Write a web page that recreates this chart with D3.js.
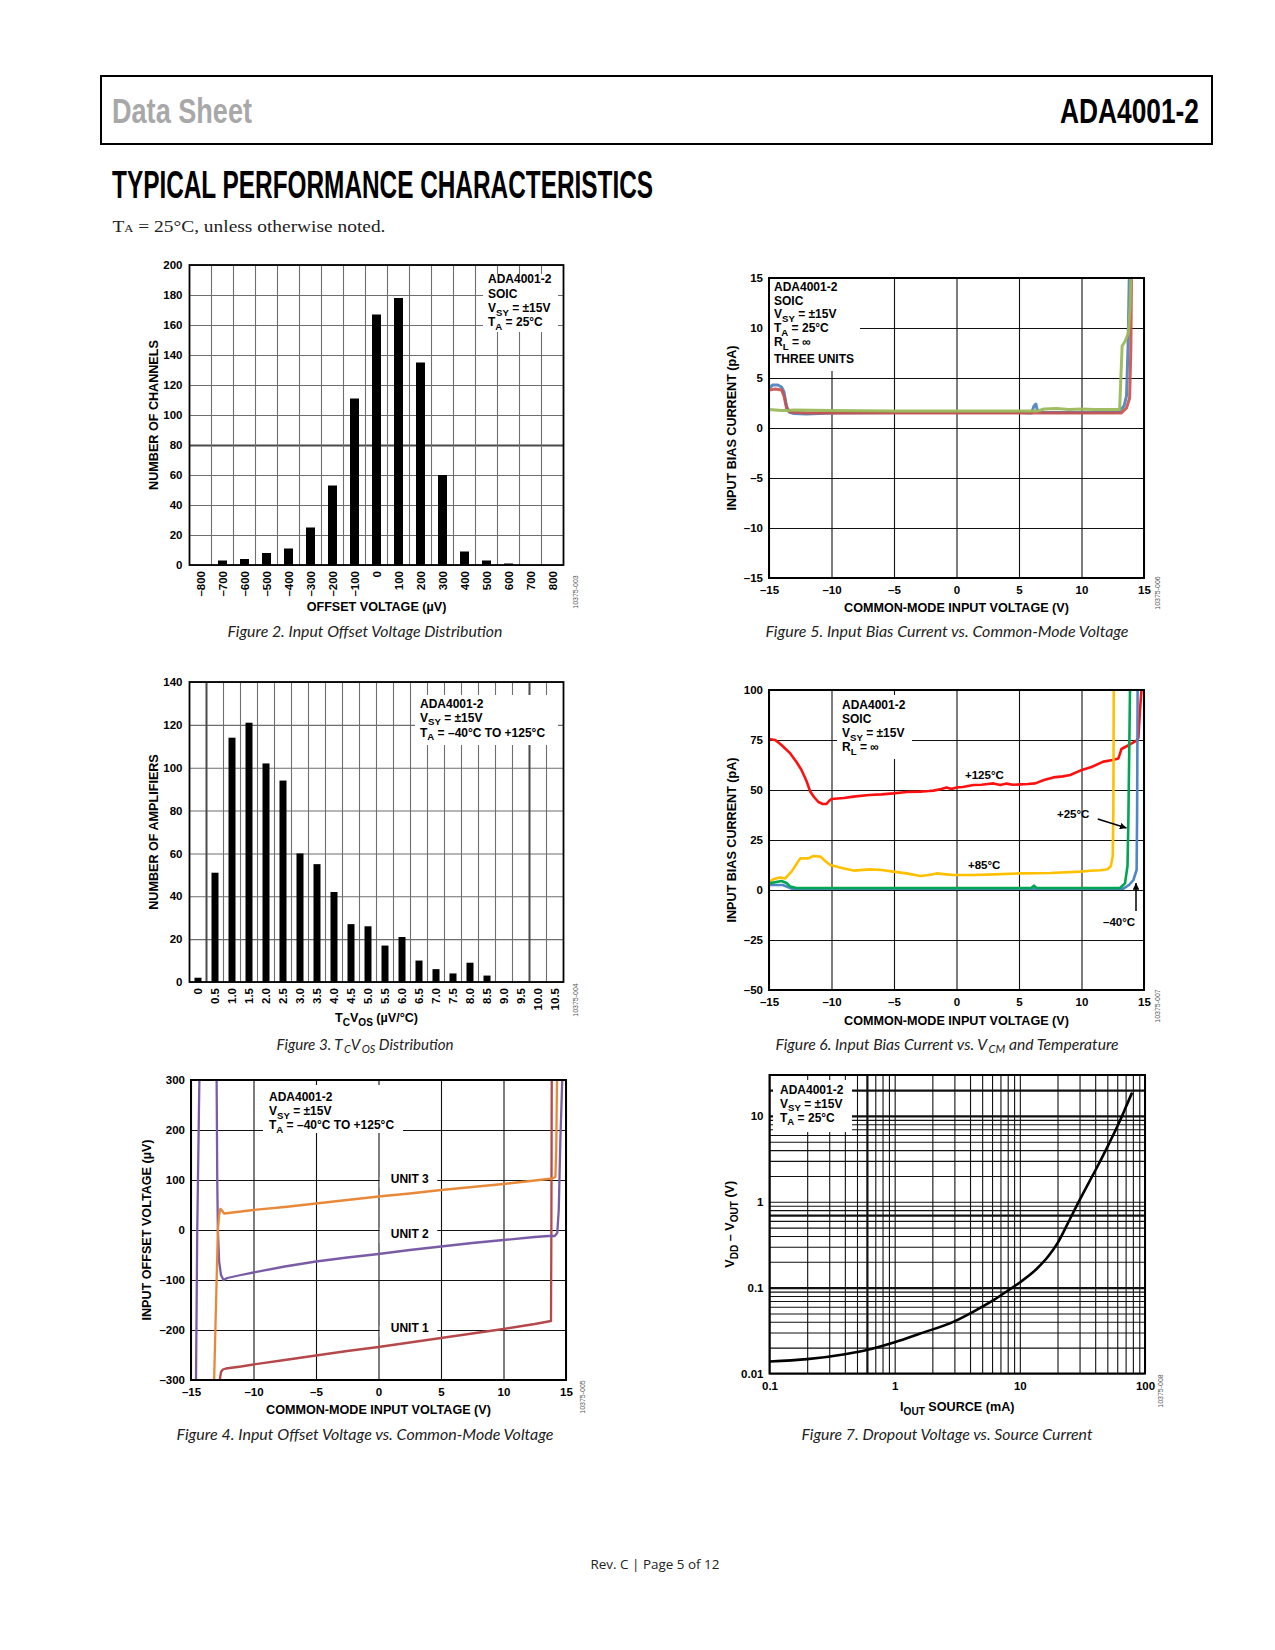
<!DOCTYPE html>
<html><head><meta charset="utf-8">
<script src="https://cdn.jsdelivr.net/npm/d3@7/dist/d3.min.js"></script>
<style>
body{margin:0;background:#fff;}
svg text{font-family:"Liberation Sans",Arial,Helvetica,sans-serif;}
</style></head><body>
<script>
// ---------------- DATA ----------------
// Figure 2: Input offset voltage distribution
const fig2Categories = [-800,-700,-600,-500,-400,-300,-200,-100,0,100,200,300,400,500,600,700,800];
const fig2Counts     = [0,3,4,8,11,25,53,111,167,178,135,60,9,3,1,0,0];
const fig2YTicks     = [0,20,40,60,80,100,120,140,160,180,200];

// Figure 3: TcVos distribution
const fig3Categories = ["0","0.5","1.0","1.5","2.0","2.5","3.0","3.5","4.0","4.5","5.0","5.5","6.0","6.5","7.0","7.5","8.0","8.5","9.0","9.5","10.0","10.5"];
const fig3Counts     = [2,51,114,121,102,94,60,55,42,27,26,17,21,10,6,4,9,3,0,0,0,0];
const fig3YTicks     = [0,20,40,60,80,100,120,140];

// Figure 4: Input offset voltage vs common-mode voltage (x V, y µV)
const fig4XTicks = [-15,-10,-5,0,5,10,15];
const fig4YTicks = [-300,-200,-100,0,100,200,300];
const fig4Unit1 = [[-12.7,-300],[-12.6,-284],[-12.45,-279],[-12.2,-277],[-11,-273],[-10,-269],[-7.5,-260],[-5,-251],[-2.5,-242],[0,-234],[2.5,-225],[5,-216],[7.5,-207],[10,-198],[12.5,-188],[13.8,-182],[13.83,0],[13.86,300]];
const fig4Unit2a = [[-14.6,-300],[-14.5,0],[-14.33,300]];
const fig4Unit2b = [[-12.95,300],[-12.9,100],[-12.85,0],[-12.75,-63],[-12.6,-90],[-12.4,-100],[-12.1,-96],[-11,-90],[-10,-85],[-7.5,-73],[-5,-63],[-2.5,-55],[0,-48],[2.5,-40],[5,-33],[7.5,-26],[10,-20],[12.5,-14],[13.6,-12],[14.1,-12],[14.3,-6],[14.42,40],[14.55,180],[14.7,300]];
const fig4Unit3 = [[-13.15,-300],[-13.0,-150],[-12.85,0],[-12.75,30],[-12.65,42],[-12.55,40],[-12.35,33],[-12,34],[-10,40],[-7.5,46],[-5,53],[-2.5,60],[0,67],[2.5,73],[5,80],[7.5,86],[10,92],[12.5,99],[13.9,103],[14.15,106],[14.22,160],[14.28,300]];

// Figure 5: Input bias current vs common-mode voltage (x V, y pA)
const fig5XTicks = [-15,-10,-5,0,5,10,15];
const fig5YTicks = [-15,-10,-5,0,5,10,15];
const fig5Blue  = [[-15,4.0],[-14.7,4.3],[-14.3,4.3],[-14.0,4.1],[-13.8,3.6],[-13.6,2.2],[-13.4,1.6],[-13,1.45],[-12,1.4],[-11,1.45],[-10,1.5],[-5,1.55],[0,1.55],[5,1.55],[6.0,1.5],[6.2,2.2],[6.35,2.4],[6.5,1.6],[7,1.55],[10,1.55],[13,1.6],[13.4,2.2],[13.6,3.2],[13.72,8],[13.82,15]];
const fig5Red   = [[-15,3.8],[-14.5,3.9],[-14.0,3.8],[-13.8,3.2],[-13.6,2.0],[-13.3,1.6],[-12,1.5],[-10,1.5],[0,1.5],[10,1.5],[13.2,1.5],[13.6,2.0],[13.85,3.0],[13.95,8],[14.0,15]];
const fig5Green = [[-15,1.85],[-14,1.75],[-13.5,1.75],[-13,1.8],[-10,1.75],[-5,1.7],[0,1.7],[5,1.7],[6.5,1.7],[7.0,1.9],[8,1.95],[9,1.85],[10,1.9],[11,1.85],[12,1.85],[13.05,1.85],[13.25,8.2],[13.5,8.7],[13.75,9.5],[13.88,12],[13.95,15]];

// Figure 6: Input bias current vs Vcm and temperature
const fig6XTicks = [-15,-10,-5,0,5,10,15];
const fig6YTicks = [-50,-25,0,25,50,75,100];
const fig6T125 = [[-15,75.5],[-14.5,75],[-14,72.5],[-13.3,68.3],[-12.8,64],[-12.4,60],[-12,54.5],[-11.7,49.2],[-11.4,46.5],[-11.05,44],[-10.7,43],[-10.4,43],[-10.2,44.5],[-10,45.5],[-9,46],[-8.25,46.7],[-7,47.5],[-6,47.8],[-5.05,48.3],[-4,49],[-2.9,49.2],[-2.2,49.5],[-1.85,49.7],[-1.2,50.5],[-0.8,51.3],[-0.4,50.5],[0,51.3],[0.5,51.5],[1.35,52.5],[2,52.6],[2.5,53],[2.95,53.3],[3.5,52.5],[4,53.2],[4.5,52.6],[5.1,52.8],[5.7,53],[6.3,53.3],[7,55],[7.75,56.3],[8.5,56.8],[9.1,57.5],[9.9,59.7],[10.8,61.5],[11.75,64.2],[12.5,65],[12.95,65.8],[13.2,70.5],[13.8,72.5],[14.4,74.7],[14.55,76],[14.68,90],[14.8,100]];
const fig6T85  = [[-15,4.2],[-14.6,5.5],[-14.1,6.3],[-13.7,5.8],[-13.2,9.2],[-12.8,13],[-12.5,15.8],[-11.85,15.8],[-11.45,17],[-10.9,16.7],[-10.5,14.5],[-10.1,12.5],[-9,10.8],[-8.25,9.7],[-6.9,10.3],[-6,10],[-5.05,9.2],[-4,8.3],[-2.9,7],[-2.2,7.5],[-1.6,8.3],[-0.8,7.8],[-0.25,7.5],[1.35,7.5],[3,7.8],[5.1,8.3],[7.5,8.5],[9.9,9.2],[10.7,9.6],[11.5,9.9],[12.1,10.4],[12.35,12],[12.5,17],[12.55,40],[12.58,100]];
const fig6T25  = [[-15,3.3],[-14,4.5],[-13.6,3.5],[-13.3,1.7],[-12.8,1.0],[0,1.0],[6.0,1.0],[6.2,2.2],[6.4,1.0],[13.08,1.0],[13.48,3.3],[13.68,12],[13.75,35],[13.82,70],[13.88,100]];
const fig6Tm40 = [[-15,2.5],[-13.9,2.5],[-13.2,0.7],[13.35,0.7],[13.8,2.5],[14.15,5],[14.41,10],[14.45,40],[14.49,100]];

// Figure 7: Dropout voltage vs source current (x mA, y V)
const fig7XTicks = [0.1,1,10,100];
const fig7YTicks = [0.01,0.1,1,10];
const fig7Current = [0.1,0.2,0.4,0.6,1,1.6,3,4.3,6.2,8,10,13.6,17,20,24,29.3,35,40,49.4,61.2,70,78.2];
const fig7Dropout = [0.0138,0.0147,0.0168,0.0188,0.0231,0.0292,0.0405,0.053,0.072,0.092,0.115,0.165,0.235,0.33,0.55,0.98,1.6,2.3,4.2,8.0,12.5,18.2];

// ---------------- DRAWING ----------------
const W = 1275, H = 1650;
const TICK = 11.5, TITLE = 12.6;
const svg = d3.select("body").append("svg").attr("width", W).attr("height", H);
svg.append("rect").attr("width", W).attr("height", H).attr("fill", "#fff");
const defs = svg.append("defs");
defs.append("marker").attr("id","arr").attr("viewBox","0 0 10 10").attr("refX",10).attr("refY",5)
  .attr("markerWidth",4.5).attr("markerHeight",4.5).attr("orient","auto-start-reverse")
  .append("path").attr("d","M0,0L10,5L0,10z").attr("fill","#000");

const fmtMinus = d => (d < 0 ? "\u2013" + Math.abs(d) : String(d));

function rich(g, x, y, s, o = {}) {
  const size = o.size || 12;
  const t = g.append("text").attr("x", x).attr("y", y).attr("font-size", size)
    .attr("font-weight", o.weight || "bold").attr("text-anchor", o.anchor || "start")
    .attr("fill", o.fill || "#000");
  if (o.family) t.style("font-family", o.family);
  if (o.style) t.attr("font-style", o.style);
  if (o.rotate) t.attr("transform", `rotate(${o.rotate},${x},${y})`);
  const re = /_\{([^}]*)\}/g; let last = 0, m; const pieces = [];
  while ((m = re.exec(s))) { if (m.index > last) pieces.push([s.slice(last, m.index), false]); pieces.push([m[1], true]); last = re.lastIndex; }
  if (last < s.length) pieces.push([s.slice(last), false]);
  let shifted = false;
  const sub = o.sub || 0.8, drop = o.drop || 0.3;
  pieces.forEach(([p, isSub]) => {
    const ts = t.append("tspan").text(p);
    if (isSub) {
      ts.attr("font-size", size * sub);
      if (!shifted) { ts.attr("dy", size * drop); if (o.subDx) ts.attr("dx", o.subDx); }
      shifted = true;
    }
    else if (shifted) { ts.attr("dy", -size * drop); shifted = false; }
  });
  if (o.textLength) t.attr("textLength", o.textLength).attr("lengthAdjust", "spacingAndGlyphs");
  return t;
}

function legend(g, box, x0, lines, baselines, size) {
  g.append("rect").attr("x", box[0]).attr("y", box[1]).attr("width", box[2]).attr("height", box[3]).attr("fill", "#fff");
  lines.forEach((l, i) => rich(g, x0, baselines[i], l, { size: size || 12 }));
}

function caption(text, cx, y, len) {
  rich(svg, cx, y, text, { size: 16, anchor: "middle", weight: "normal", style: "italic", fill: "#222",
    family: 'Lato,"Open Sans",sans-serif', textLength: len, sub: 0.72, drop: 0.18, subDx: 1.5 });
}
function figId(text, x, y) {
  svg.append("text").attr("x", x).attr("y", y).attr("text-anchor", "middle").attr("font-size", 7)
    .attr("fill", "#555").attr("transform", `rotate(-90,${x},${y})`).text(text);
}

// Header
svg.append("rect").attr("x", 101).attr("y", 76).attr("width", 1111).attr("height", 68)
  .attr("fill", "none").attr("stroke", "#000").attr("stroke-width", 2);
svg.append("text").attr("x", 112).attr("y", 123).attr("font-size", 35).attr("font-weight", "bold")
  .attr("fill", "#a8a8a8").attr("textLength", 140).attr("lengthAdjust", "spacingAndGlyphs").text("Data Sheet");
svg.append("text").attr("x", 1199).attr("y", 123).attr("font-size", 35).attr("font-weight", "bold")
  .attr("text-anchor", "end").attr("fill", "#000").attr("textLength", 139).attr("lengthAdjust", "spacingAndGlyphs").text("ADA4001-2");
svg.append("text").attr("x", 112).attr("y", 198).attr("font-size", 38).attr("font-weight", "bold")
  .attr("fill", "#000").attr("textLength", 541).attr("lengthAdjust", "spacingAndGlyphs").text("TYPICAL PERFORMANCE CHARACTERISTICS");
(function(){
  const t = svg.append("text").attr("x", 112.5).attr("y", 232).attr("font-size", 17).attr("fill", "#222")
    .style("font-family", '"Liberation Serif","DejaVu Serif",serif');
  t.append("tspan").text("T");
  t.append("tspan").attr("font-size", 11).text("A");
  t.append("tspan").text(" = 25°C, unless otherwise noted.");
  t.attr("textLength", 273).attr("lengthAdjust", "spacingAndGlyphs");
})();
// Footer
svg.append("text").attr("x", 655).attr("y", 1569).attr("text-anchor", "middle").attr("font-size", 13)
  .attr("fill", "#222").style("font-family", '"Open Sans","Noto Sans",sans-serif')
  .attr("textLength", 129).attr("lengthAdjust", "spacingAndGlyphs").text("Rev. C | Page 5 of 12");

// ---------- Bar chart panel ----------
function barPanel(c) {
  const g = svg.append("g");
  const x = d3.scaleBand().domain(c.cats).range([c.left, c.left + c.width]);
  const y = d3.scaleLinear().domain([0, c.yMax]).range([c.top + c.height, c.top]);
  g.append("g").attr("transform", `translate(${c.left},0)`)
    .call(d3.axisLeft(y).tickValues(c.yTicks).tickSize(-c.width).tickFormat(""))
    .call(s => s.select(".domain").remove())
    .selectAll("line").attr("stroke", d => (c.darkY || []).includes(d) ? "#4a4a4a" : "#6e6e6e")
    .attr("stroke-width", d => (c.darkY || []).includes(d) ? 2 : 1.1);
  const bounds = c.cats.slice(1);
  g.append("g").selectAll("line").data(bounds).join("line")
    .attr("x1", d => x(d)).attr("x2", d => x(d)).attr("y1", c.top).attr("y2", c.top + c.height)
    .attr("stroke", (d, i) => (c.darkX || []).includes(i + 1) ? "#4a4a4a" : "#6e6e6e")
    .attr("stroke-width", (d, i) => (c.darkX || []).includes(i + 1) ? 2 : 1.1);
  legend(g, c.legBox, c.legX, c.legLines, c.legBase, 12);
  g.append("g").selectAll("rect").data(c.cats.map((k, i) => [k, c.vals[i]])).join("rect")
    .attr("x", d => x(d[0]) + (x.bandwidth() - c.barW) / 2).attr("width", c.barW)
    .attr("y", d => y(d[1])).attr("height", d => y(0) - y(d[1])).attr("fill", "#000");
  g.append("rect").attr("x", c.left).attr("y", c.top).attr("width", c.width).attr("height", c.height)
    .attr("fill", "none").attr("stroke", "#000").attr("stroke-width", 1.8);
  const ya = g.append("g").attr("transform", `translate(${c.left},0)`)
    .call(d3.axisLeft(y).tickValues(c.yTicks).tickSize(0).tickPadding(7).tickFormat(fmtMinus));
  ya.select(".domain").remove();
  ya.selectAll("text").attr("font-size", TICK).attr("font-weight", "bold").attr("fill", "#000").style("font-family", null);
  const xa = g.append("g").attr("transform", `translate(0,${c.top + c.height})`)
    .call(d3.axisBottom(x).tickSize(0).tickPadding(0).tickFormat(c.fmtX || (d => d)));
  xa.select(".domain").remove();
  xa.selectAll("text").attr("font-size", TICK).attr("font-weight", "bold").attr("fill", "#000")
    .attr("text-anchor", "end").attr("dy", null).attr("y", 0)
    .attr("transform", "translate(4,6) rotate(-90)").style("font-family", null);
  rich(g, c.yTitleX, c.top + c.height / 2, c.yTitle, { size: TITLE, anchor: "middle", rotate: -90 });
  rich(g, c.left + c.width / 2, c.xTitleY, c.xTitle, { size: TITLE, anchor: "middle" });
  return { x, y };
}

barPanel({
  left: 189.5, top: 265, width: 374, height: 300, cats: fig2Categories, vals: fig2Counts, yMax: 200,
  yTicks: fig2YTicks, barW: 9, darkY: [80], fmtX: fmtMinus,
  legBox: [483, 274, 75, 58], legX: 488, legLines: ["ADA4001-2", "SOIC", "V_{SY} = ±15V", "T_{A} = 25°C"], legBase: [283, 297.5, 312, 326],
  yTitle: "NUMBER OF CHANNELS", yTitleX: 158, xTitle: "OFFSET VOLTAGE (µV)", xTitleY: 611
});
barPanel({
  left: 189.5, top: 682, width: 374, height: 300, cats: fig3Categories, vals: fig3Counts, yMax: 140,
  yTicks: fig3YTicks, barW: 7, darkX: [1, 20],
  legBox: [415, 695, 143, 50], legX: 420, legLines: ["ADA4001-2", "V_{SY} = ±15V", "T_{A} = \u201340°C TO +125°C"], legBase: [707.5, 721.5, 736.5],
  yTitle: "NUMBER OF AMPLIFIERS", yTitleX: 158, xTitle: "T_{C}V_{OS} (µV/°C)", xTitleY: 1022
});

// ---------- Line chart panel ----------
function linePanel(c) {
  const g = svg.append("g");
  const x = (c.xLog ? d3.scaleLog() : d3.scaleLinear()).domain(c.xDom).range([c.left, c.left + c.width]);
  const y = (c.yLog ? d3.scaleLog() : d3.scaleLinear()).domain(c.yDom).range([c.top + c.height, c.top]);
  const xGrid = c.xGrid || c.xTicks, yGrid = c.yGrid || c.yTicks;
  const thick = (arr, d) => (arr || []).some(v => Math.abs(v - d) / Math.abs(v || 1) < 1e-6);
  g.append("g").attr("transform", `translate(0,${c.top + c.height})`)
    .call(d3.axisBottom(x).tickValues(xGrid).tickSize(-c.height).tickFormat(""))
    .call(s => s.select(".domain").remove())
    .selectAll("line").attr("stroke", "#111").attr("stroke-width", d => thick(c.thickX, d) ? 2.2 : 1.1);
  g.append("g").attr("transform", `translate(${c.left},0)`)
    .call(d3.axisLeft(y).tickValues(yGrid).tickSize(-c.width).tickFormat(""))
    .call(s => s.select(".domain").remove())
    .selectAll("line").attr("stroke", "#111").attr("stroke-width", d => thick(c.thickY, d) ? 2.2 : 1.1);
  (c.boxes || []).forEach(b => g.append("rect").attr("x", x(b[0])).attr("y", y(b[1])).attr("width", x(b[2]) - x(b[0])).attr("height", y(b[3]) - y(b[1])).attr("fill", "#fff"));
  legend(g, c.legBox, c.legX, c.legLines, c.legBase, 12);
  const cid = "clip" + c.id;
  defs.append("clipPath").attr("id", cid).append("rect").attr("x", c.left).attr("y", c.top - 1).attr("width", c.width).attr("height", c.height + 2);
  const line = d3.line().x(d => x(d[0])).y(d => y(d[1])).curve(c.curve || d3.curveLinear);
  const lg = g.append("g").attr("clip-path", `url(#${cid})`);
  c.series.forEach(s => lg.append("path").attr("d", line(s.data)).attr("fill", "none").attr("stroke", s.color)
    .attr("stroke-width", s.w || 2.5).attr("stroke-linejoin", "round").attr("stroke-linecap", "round").attr("stroke-opacity", s.op || 1));
  g.append("rect").attr("x", c.left).attr("y", c.top).attr("width", c.width).attr("height", c.height)
    .attr("fill", "none").attr("stroke", "#000").attr("stroke-width", 2);
  const ya = g.append("g").attr("transform", `translate(${c.left},0)`)
    .call(d3.axisLeft(y).tickValues(c.yTicks).tickSize(0).tickPadding(6).tickFormat(c.fmtY || fmtMinus));
  ya.select(".domain").remove();
  ya.selectAll("text").attr("font-size", TICK).attr("font-weight", "bold").attr("fill", "#000").style("font-family", null);
  const xa = g.append("g").attr("transform", `translate(0,${c.top + c.height})`)
    .call(d3.axisBottom(x).tickValues(c.xTicks).tickSize(0).tickPadding(c.xPad || 8).tickFormat(c.fmtX || fmtMinus));
  xa.select(".domain").remove();
  xa.selectAll("text").attr("font-size", TICK).attr("font-weight", "bold").attr("fill", "#000").style("font-family", null);
  rich(g, c.yTitleX, c.top + c.height / 2, c.yTitle, { size: TITLE, anchor: "middle", rotate: -90 });
  rich(g, c.left + c.width / 2, c.xTitleY, c.xTitle, { size: TITLE, anchor: "middle" });
  return { g, x, y };
}

// Figure 4
const p4 = linePanel({
  id: 4, left: 191, top: 1080, width: 375, height: 300, xDom: [-15, 15], yDom: [-300, 300],
  xTicks: fig4XTicks, yTicks: fig4YTicks,
  boxes: [[0.1, 106, 4.7, 84], [0.1, 4, 4.7, -26], [0.1, -192, 4.7, -214]],
  legBox: [263, 1085, 140, 48], legX: 269, legLines: ["ADA4001-2", "V_{SY} = ±15V", "T_{A} = \u201340°C TO +125°C"], legBase: [1101, 1115, 1129],
  series: [
    { data: fig4Unit1, color: "#b5484a", w: 2.3 },
    { data: fig4Unit2a, color: "#7a5ca6", w: 2.3 },
    { data: fig4Unit2b, color: "#7a5ca6", w: 2.3 },
    { data: fig4Unit3, color: "#e8893a", w: 2.3 }
  ],
  yTitle: "INPUT OFFSET VOLTAGE (µV)", yTitleX: 151, xTitle: "COMMON-MODE INPUT VOLTAGE (V)", xTitleY: 1414
});
[["UNIT 3", 94], ["UNIT 2", -16], ["UNIT 1", -204]].forEach(([t, v]) =>
  rich(p4.g, p4.x(2.5), p4.y(v), t, { size: 12, anchor: "middle" }));

// Figure 5
linePanel({
  id: 5, left: 769, top: 278, width: 375, height: 300, xDom: [-15, 15], yDom: [-15, 15],
  xTicks: fig5XTicks, yTicks: fig5YTicks,
  legBox: [770, 279, 90, 92], legX: 774, legLines: ["ADA4001-2", "SOIC", "V_{SY} = ±15V", "T_{A} = 25°C", "R_{L} = ∞", "THREE UNITS"],
  legBase: [291, 304.5, 318, 332, 346, 363],
  series: [
    { data: fig5Blue, color: "#4a7ebb", w: 3, op: 0.9 },
    { data: fig5Red, color: "#c9504d", w: 3, op: 0.9 },
    { data: fig5Green, color: "#9bbb59", w: 3, op: 0.95 }
  ],
  yTitle: "INPUT BIAS CURRENT (pA)", yTitleX: 736, xTitle: "COMMON-MODE INPUT VOLTAGE (V)", xTitleY: 612
});

// Figure 6
const p6 = linePanel({
  id: 6, left: 769, top: 690, width: 375, height: 300, xDom: [-15, 15], yDom: [-50, 100],
  xTicks: fig6XTicks, yTicks: fig6YTicks,
  legBox: [837, 695, 75, 64], legX: 842, legLines: ["ADA4001-2", "SOIC", "V_{SY} = ±15V", "R_{L} = ∞"], legBase: [709, 723, 737, 751],
  series: [
    { data: fig6T125, color: "#ff1010", w: 2.6 },
    { data: fig6T85, color: "#ffc000", w: 2.6 },
    { data: fig6Tm40, color: "#4f86c6", w: 2.6 },
    { data: fig6T25, color: "#00a651", w: 2.6 }
  ],
  yTitle: "INPUT BIAS CURRENT (pA)", yTitleX: 736, xTitle: "COMMON-MODE INPUT VOLTAGE (V)", xTitleY: 1025
});
rich(p6.g, p6.x(0.68), p6.y(55.5), "+125°C", { size: 11.5 });
rich(p6.g, p6.x(8.04), p6.y(36), "+25°C", { size: 11.5 });
rich(p6.g, p6.x(0.92), p6.y(10.5), "+85°C", { size: 11.5 });
rich(p6.g, p6.x(11.72), p6.y(-18), "\u201340°C", { size: 11.5 });
p6.g.append("line").attr("x1", p6.x(11.3)).attr("y1", p6.y(35.5)).attr("x2", p6.x(13.6)).attr("y2", p6.y(31))
  .attr("stroke", "#000").attr("stroke-width", 1.5).attr("marker-end", "url(#arr)");
p6.g.append("line").attr("x1", p6.x(14.36)).attr("y1", p6.y(-10.5)).attr("x2", p6.x(14.36)).attr("y2", p6.y(3.5))
  .attr("stroke", "#000").attr("stroke-width", 1.5).attr("marker-end", "url(#arr)");

// Figure 7
const minorX = [], minorY = [];
[0.1, 1, 10].forEach(b => { for (let k = 1; k <= 9; k++) minorX.push(+(b * k).toPrecision(3)); });
minorX.push(100);
[0.01, 0.1, 1].forEach(b => { for (let k = 1; k <= 9; k++) minorY.push(+(b * k).toPrecision(3)); });
minorY.push(10, 20, 30);
linePanel({
  id: 7, left: 769.5, top: 1075, width: 375.5, height: 298.5, xLog: true, yLog: true,
  xDom: [0.1, 100], yDom: [0.01, 30], xTicks: fig7XTicks, yTicks: fig7YTicks,
  xGrid: minorX, yGrid: minorY, thickX: [0.6], thickY: [20, 10, 0.7, 0.1],
  fmtX: d => String(d), fmtY: d => String(d), xPad: 8,
  legBox: [773, 1080, 79, 52], legX: 780, legLines: ["ADA4001-2", "V_{SY} = ±15V", "T_{A} = 25°C"], legBase: [1093.5, 1107.5, 1121.5],
  series: [{ data: fig7Current.map((c, i) => [c, fig7Dropout[i]]), color: "#000", w: 2.6 }], curve: d3.curveMonotoneX,
  yTitle: "V_{DD} \u2013 V_{OUT} (V)", yTitleX: 734, xTitle: "I_{OUT} SOURCE (mA)", xTitleY: 1411
});

// Captions & ids
caption("Figure 2. Input Offset Voltage Distribution", 365, 637, 275);
caption("Figure 5. Input Bias Current vs. Common-Mode Voltage", 947, 637, 363);
caption("Figure 3. T_{C}V_{OS} Distribution", 365, 1050, 177);
caption("Figure 6. Input Bias Current vs. V_{CM} and Temperature", 947, 1050, 343);
caption("Figure 4. Input Offset Voltage vs. Common-Mode Voltage", 365, 1440, 377);
caption("Figure 7. Dropout Voltage vs. Source Current", 947, 1440, 291);
figId("10375-003", 578, 592);
figId("10375-004", 578, 1000);
figId("10375-005", 585, 1397);
figId("10375-006", 1160, 593);
figId("10375-007", 1160, 1006);
figId("10375-008", 1163, 1391);
</script>
</body></html>
